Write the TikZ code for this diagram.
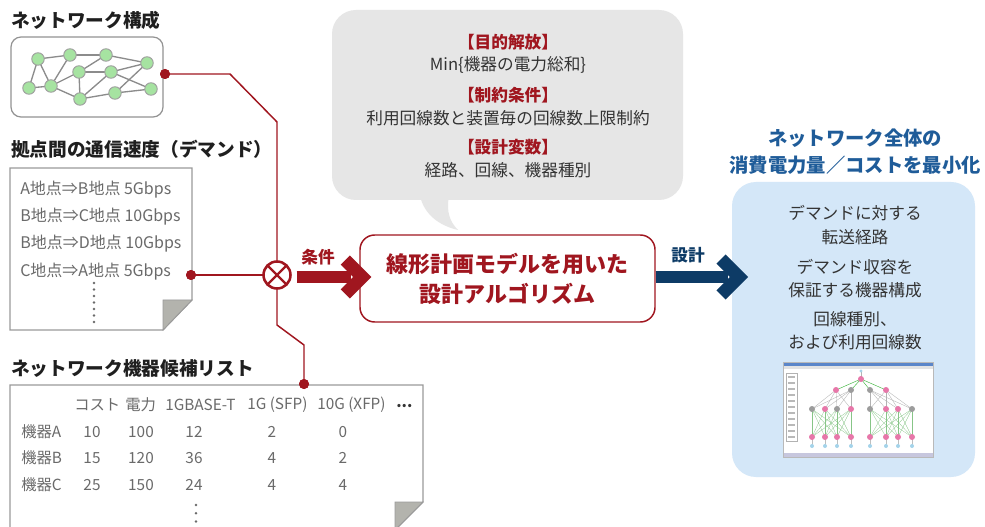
\documentclass[tikz,border=0pt]{standalone}
\usepackage{fontspec}
\setmainfont{Noto Sans CJK JP}
\usetikzlibrary{calc}

\definecolor{brandred}{HTML}{A0161F}
\definecolor{navy}{HTML}{0D3B66}
\definecolor{titleblue}{HTML}{1F5C99}
\definecolor{panelblue}{HTML}{D4E7F8}
\definecolor{bubblegray}{HTML}{E6E6E6}
\definecolor{docgray}{HTML}{9A9A9A}
\definecolor{foldgray}{HTML}{B3B3AD}
\definecolor{nodegreen}{HTML}{A6E3A1}
\definecolor{textgray}{HTML}{6A6A6A}
\definecolor{darktext}{HTML}{333333}
\definecolor{edgegray}{HTML}{8C8C8C}
\definecolor{treepink}{HTML}{E777A9}
\definecolor{treegray}{HTML}{9C9C9C}
\definecolor{treeblue}{HTML}{A4D3EA}
\definecolor{winbar}{HTML}{5B86C9}

\tikzset{
  title/.style={anchor=west, inner sep=0, font=\fontsize{14}{16}\selectfont\bfseries, text=black!88},
  doctext/.style={anchor=west, inner sep=0, font=\fontsize{12}{13}\selectfont, text=textgray},
  cell/.style={inner sep=0, font=\fontsize{11.5}{13}\selectfont, text=textgray},
  doc/.style={draw=docgray, line width=0.9pt, fill=white},
  fold/.style={fill=foldgray, draw=docgray, line width=0.6pt},
  netnode/.style={circle, fill=nodegreen, draw=gray!75, line width=0.7pt, minimum size=12.5*0.75pt, inner sep=0},
  netedge/.style={draw=edgegray, line width=1pt},
  wire/.style={draw=brandred, line width=1.1pt},
  wiredot/.style={circle, fill=brandred, minimum size=10*0.75pt, inner sep=0},
  bubbletext/.style={inner sep=0, font=\fontsize{12.5}{14}\selectfont, text=darktext},
  bubblehead/.style={inner sep=0, font=\fontsize{12.5}{14}\selectfont\bfseries, text=brandred},
  paneltext/.style={inner sep=0, align=center, font=\fontsize{12.5}{17.6}\selectfont, text=darktext},
  fatshaft/.style={line width=12*0.75pt},
  fathead/.style={line width=13*0.75pt, miter limit=10},
  arrowlabel/.style={inner sep=0, font=\fontsize{12.5}{14}\selectfont\bfseries},
}

\begin{document}
\begin{tikzpicture}[x=0.75pt, y=-0.75pt]
\useasboundingbox (0,0) rectangle (985,527);
\fill[white] (0,0) rectangle (985,527);

% ---------- section titles ----------
\node[title] (tnet) at (11,20) {ネットワーク構成};
\node[title] (tdem) at (11,149) {拠点間の通信速度（デマンド）};
\node[title] (tequ) at (11,368) {ネットワーク機器候補リスト};

% ---------- network topology box ----------
\node[draw=gray!85, line width=0.9pt, rounded corners=7.5pt, minimum width=152*0.75pt,
      minimum height=80*0.75pt, inner sep=0] (netbox) at (87,77) {};
\foreach \n/\x/\y in {n1/38/59, n2/70/55, n3/106/55, n4/147/63, n5/79/72, n6/111/72,
                      n7/29/88, n8/51/86, n9/80/99, n10/115/93, n11/151/89}
  \coordinate (\n) at (\x,\y);
\foreach \a/\b in {n1/n2, n1/n7, n1/n8, n2/n3, n2/n8, n3/n4, n3/n5, n5/n6, n5/n8, n5/n9,
                   n7/n8, n8/n9, n9/n10, n6/n4, n6/n11, n9/n6, n10/n4, n10/n11}
  \draw[netedge] (\a) -- (\b);
\foreach \n in {n1,n2,n3,n4,n5,n6,n7,n8,n9,n10,n11}
  \node[netnode] (c\n) at (\n) {};

% ---------- demand document ----------
\draw[doc] (10,168) -- (192,168) -- (192,300) -- (163,330) -- (10,330) -- cycle;
\draw[fold] (163,300) -- (192,300) -- (163,330) -- cycle;
\node[doctext] (d1) at (20,190) {A地点⇒B地点 5Gbps};
\node[doctext] (d2) at (20,217) {B地点⇒C地点 10Gbps};
\node[doctext] (d3) at (20,244) {B地点⇒D地点 10Gbps};
\node[doctext] (d4) at (20,272) {C地点⇒A地点 5Gbps};
\foreach \k in {0,...,6}
  \fill[textgray] (94,283+6.5*\k) circle (1.4);

% ---------- equipment document ----------
\draw[doc] (10,385) -- (423,385) -- (423,502) -- (395,530) -- (10,530) -- cycle;
\draw[fold] (395,502) -- (423,502) -- (395,530) -- cycle;
\node[cell, anchor=west] (h1) at (74,405) {コスト};
\node[cell, anchor=west] (h2) at (125,405) {電力};
\node[cell, anchor=west] (h3) at (165,405) {1GBASE-T};
\node[cell, anchor=west] (h4) at (247,405) {1G (SFP)};
\node[cell, anchor=west] (h5) at (317,405) {10G (XFP)};
\node[cell, anchor=west, text=darktext, font=\fontsize{11.5}{13}\selectfont\bfseries] (h6) at (396,406) {...};
\node[cell, anchor=west] (ra) at (21,432) {機器A};
\node[cell, anchor=west] (rb) at (21,458) {機器B};
\node[cell, anchor=west] (rc) at (21,485) {機器C};
\foreach \r/\y/\a/\b/\c/\d/\e in {a/432/10/100/12/2/0, b/458/15/120/36/4/2, c/485/25/150/24/4/4} {
  \node[cell] (v\r1) at (92,\y) {\a};
  \node[cell] (v\r2) at (141,\y) {\b};
  \node[cell] (v\r3) at (194,\y) {\c};
  \node[cell] (v\r4) at (272,\y) {\d};
  \node[cell] (v\r5) at (343,\y) {\e};
}
\foreach \k in {0,...,3}
  \fill[textgray] (196,505+8.2*\k) circle (1.4);

% ---------- speech bubble with the model ----------
\fill[bubblegray, rounded corners=18pt] (332,10) rectangle (683,200);
\fill[bubblegray] (420,196) .. controls (424,213) and (437,225) .. (458,230)
                  .. controls (450,222) and (446,212) .. (449,196) -- cycle;
\node[bubblehead] (bh1) at (508,42) {【目的解放】};
\node[bubbletext] (bt1) at (508,65) {Min\{機器の電力総和\}};
\node[bubblehead] (bh2) at (508,95) {【制約条件】};
\node[bubbletext] (bt2) at (508,118) {利用回線数と装置毎の回線数上限制約};
\node[bubblehead] (bh3) at (508,147) {【設計変数】};
\node[bubbletext] (bt3) at (508,170) {経路、回線、機器種別};

% ---------- connectors into the combiner ----------
\node[circle, draw=brandred, fill=white, line width=1.9pt, minimum size=27*0.75pt,
      inner sep=0, outer sep=0] (ox) at (277,275) {};
\node[wiredot] (ndot) at (165,74) {};
\node[wiredot] (ddot) at (191,275) {};
\node[wiredot] (edot) at (304,384) {};
\coordinate (b1) at (230,74);
\coordinate (b2) at (277,122);
\coordinate (b3) at (277,325);
\coordinate (b4) at (304,345);
\draw[wire] (ndot.center) -- (b1) -- (b2) -- (ox.north);
\draw[wire] (ddot.center) -- (ox.west);
\draw[wire] (ox.south) -- (b3) -- (b4) -- (edot.center);
\draw[brandred, line width=1.6pt] (ox.north west) -- (ox.south east)
                                  (ox.north east) -- (ox.south west);
\node[wiredot] at (ndot) {};
\node[wiredot] at (ddot) {};
\node[wiredot] at (edot) {};

% ---------- algorithm box ----------
\node[draw=brandred, line width=1.1pt, fill=white, rounded corners=11pt,
      minimum width=295*0.75pt, minimum height=87*0.75pt, inner sep=0, align=center,
      text=brandred, font=\fontsize{16.5}{22.5}\selectfont\bfseries] (alg) at (507.5,278.5)
  {線形計画モデルを用いた\\設計アルゴリズム};

% ---------- result panel ----------
\node[fill=panelblue, rounded corners=18pt, minimum width=243*0.75pt,
      minimum height=295*0.75pt, inner sep=0] (res) at (853.5,329.5) {};
\node[inner sep=0, align=center, text=titleblue, font=\fontsize{14.5}{20.25}\selectfont\bfseries]
  (restitle) at (855,151.5) {ネットワーク全体の\\消費電力量／コストを最小化};
\node[paneltext] (p1) at (855,225) {デマンドに対する\\転送経路};
\node[paneltext] (p2) at (855,278.5) {デマンド収容を\\保証する機器構成};
\node[paneltext] (p3) at (855,330.5) {回線種別、\\および利用回線数};

% ---------- fat arrows ----------
\draw[fatshaft, brandred] ($(ox.east)+(6,2)$) -- ($(alg.west)+(-8,-1.5)$);
\draw[fathead, brandred] ($(alg.west)+(-14,-18.5)$) -- ++(17,17) -- ++(-17,17);
\node[arrowlabel, text=brandred] (lcond) at (318,257) {条件};
\draw[fatshaft, navy] (alg.east |- 0,277) -- (728,277);
\draw[fathead, navy] (721,259) -- ++(18,18) -- ++(-18,18);
\node[arrowlabel, text=navy] (ldes) at (688,255) {設計};

% ---------- solver screenshot ----------
\fill[white] (783,362) rectangle (933,457);
\fill[winbar] (783,362) rectangle (933,365.5);
\fill[gray!22] (783,365.5) rectangle (933,369);
\fill[blue!25!gray!35] (783,452.5) rectangle (933,457);
\draw[gray!55, line width=0.4pt] (783,362) rectangle (933,457);
\draw[gray!60, line width=0.3pt] (786,373) rectangle (797,441);
\foreach \k in {0,...,10}
  \fill[gray!55] (788,376+6*\k) rectangle (795,377.8+6*\k);
% tree of the computed design
\coordinate (root) at (861,379);
\foreach \x in {836,851,870,886}
  \draw[green!45!gray, line width=0.35pt] (root) -- (\x,390);
\foreach \a in {836,851} \foreach \b in {812,825,837,851}
  \draw[gray!60, line width=0.25pt] (\a,390) -- (\b,409);
\foreach \a in {870,886} \foreach \b in {870,886,898,912}
  \draw[gray!60, line width=0.25pt] (\a,390) -- (\b,409);
\foreach \a in {812,825,837,851} \foreach \b in {812,825,837,851}
  \draw[green!35!gray!70, line width=0.2pt] (\a,409) -- (\b,437);
\foreach \a in {870,886,898,912} \foreach \b in {870,886,898,912}
  \draw[green!35!gray!70, line width=0.2pt] (\a,409) -- (\b,437);
\foreach \x in {812,825,837,851,870,886,898,912}
  \draw[gray!50, line width=0.2pt] (\x,437) -- (\x,446);
\draw[gray!60, line width=0.25pt] (861,371) -- (root);
\fill[treeblue] (861,371) circle (1.6);
\fill[treepink] (root) circle (3);
\foreach \x/\c in {836/treepink, 851/treegray, 870/treegray, 886/treepink}
  \fill[\c] (\x,390) circle (3);
\foreach \x/\c in {812/treegray, 825/treepink, 837/treegray, 851/treepink,
                   870/treegray, 886/treepink, 898/treepink, 912/treegray}
  \fill[\c] (\x,409) circle (3);
\foreach \x in {812,825,837,851,870,886,898,912} {
  \fill[treepink] (\x,437) circle (3);
  \fill[treeblue] (\x,446) circle (2);
}
\end{tikzpicture}
\end{document}
